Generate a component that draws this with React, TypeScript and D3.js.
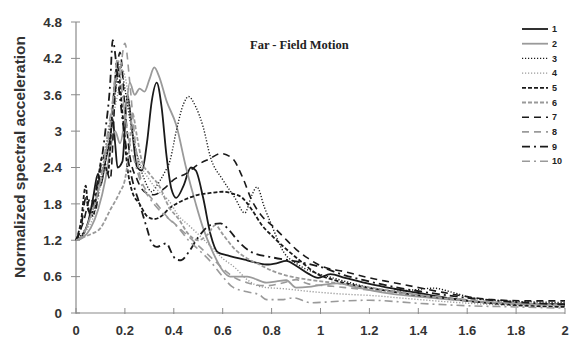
import React from "react";
import * as d3 from "d3";

type P = [number, number];

const xTicks = [0, 0.2, 0.4, 0.6, 0.8, 1, 1.2, 1.4, 1.6, 1.8, 2];
const yTicks = [0, 0.6, 1.2, 1.8, 2.4, 3, 3.6, 4.2, 4.8];
const seriesNames = ["1", "2", "3", "4", "5", "6", "7", "8", "9", "10"];

const s1: P[] = [[0,1.2],[0.03,1.3],[0.05,1.5],[0.07,1.9],[0.09,2.3],[0.1,2.1],[0.12,2.5],[0.14,2.9],[0.15,3.2],[0.16,2.8],[0.17,2.4],[0.19,2.5],[0.21,3.6],[0.23,3.0],[0.25,2.4],[0.27,2.35],[0.29,2.8],[0.31,3.5],[0.33,3.8],[0.35,3.4],[0.37,2.6],[0.39,2.05],[0.41,1.9],[0.44,2.1],[0.47,2.4],[0.49,2.35],[0.52,1.9],[0.55,1.3],[0.58,1.0],[0.62,0.95],[0.7,0.87],[0.78,0.8],[0.82,0.82],[0.86,0.86],[0.9,0.78],[0.95,0.65],[0.99,0.58],[1.04,0.64],[1.1,0.58],[1.2,0.48],[1.3,0.4],[1.4,0.33],[1.5,0.26],[1.6,0.2],[1.7,0.17],[1.8,0.16],[1.9,0.15],[2,0.15]];
const s2: P[] = [[0,1.2],[0.03,1.25],[0.06,1.4],[0.09,1.7],[0.12,2.2],[0.14,2.7],[0.16,3.0],[0.18,2.8],[0.2,3.2],[0.22,3.8],[0.24,3.6],[0.26,3.7],[0.28,3.65],[0.3,3.85],[0.32,4.05],[0.34,3.9],[0.37,3.5],[0.41,3.1],[0.45,2.4],[0.49,1.8],[0.52,1.4],[0.56,1.0],[0.6,0.7],[0.63,0.6],[0.7,0.6],[0.78,0.5],[0.82,0.52],[0.86,0.54],[0.9,0.42],[0.95,0.43],[1.0,0.46],[1.07,0.49],[1.15,0.42],[1.25,0.34],[1.4,0.27],[1.6,0.2],[1.8,0.16],[2,0.14]];
const s3: P[] = [[0,1.2],[0.04,1.4],[0.07,1.7],[0.1,2.2],[0.13,2.9],[0.16,3.6],[0.18,4.1],[0.2,3.7],[0.22,3.2],[0.25,2.6],[0.28,2.2],[0.31,2.0],[0.33,2.1],[0.36,2.3],[0.385,2.52],[0.41,3.0],[0.44,3.45],[0.46,3.57],[0.49,3.4],[0.52,3.07],[0.55,2.57],[0.6,2.2],[0.65,1.9],[0.69,1.65],[0.72,1.95],[0.74,2.08],[0.77,1.75],[0.8,1.45],[0.85,1.0],[0.9,0.82],[0.98,0.66],[1.05,0.58],[1.12,0.5],[1.2,0.42],[1.3,0.36],[1.38,0.38],[1.46,0.41],[1.54,0.34],[1.62,0.25],[1.75,0.2],[1.9,0.18],[2,0.17]];
const s4: P[] = [[0,1.2],[0.04,1.35],[0.08,1.7],[0.11,2.3],[0.14,3.0],[0.17,3.6],[0.19,4.0],[0.21,3.7],[0.23,3.0],[0.26,2.5],[0.3,2.2],[0.34,2.0],[0.38,1.85],[0.42,1.6],[0.46,1.45],[0.5,1.3],[0.55,1.1],[0.6,0.9],[0.65,0.75],[0.7,0.55],[0.76,0.43],[0.85,0.4],[0.97,0.35],[1.1,0.31],[1.2,0.29],[1.35,0.24],[1.5,0.19],[1.7,0.14],[1.85,0.12],[2,0.11]];
const s5: P[] = [[0,1.2],[0.02,1.5],[0.04,2.1],[0.05,1.7],[0.07,1.6],[0.09,2.2],[0.11,2.6],[0.13,2.3],[0.15,3.4],[0.17,4.1],[0.19,3.3],[0.21,2.4],[0.23,2.0],[0.26,1.8],[0.29,1.6],[0.32,1.55],[0.35,1.6],[0.38,1.72],[0.41,1.8],[0.45,1.88],[0.5,1.95],[0.55,1.98],[0.6,2.0],[0.64,1.97],[0.68,1.9],[0.72,1.7],[0.76,1.45],[0.8,1.28],[0.85,1.09],[0.92,0.85],[0.98,0.66],[1.05,0.55],[1.15,0.45],[1.25,0.38],[1.35,0.32],[1.45,0.27],[1.55,0.23],[1.65,0.18],[1.8,0.13],[2,0.1]];
const s6: P[] = [[0,1.2],[0.03,1.25],[0.06,1.3],[0.1,1.4],[0.14,1.7],[0.18,2.0],[0.2,2.2],[0.22,2.8],[0.23,3.3],[0.25,2.9],[0.27,2.5],[0.3,2.3],[0.34,2.1],[0.38,1.75],[0.42,1.55],[0.46,1.3],[0.5,1.2],[0.54,1.3],[0.57,1.45],[0.6,1.3],[0.65,1.05],[0.7,0.9],[0.75,0.8],[0.8,0.7],[0.88,0.6],[0.95,0.55],[1.05,0.5],[1.15,0.45],[1.3,0.36],[1.45,0.27],[1.6,0.2],[1.8,0.15],[2,0.13]];
const s7: P[] = [[0,1.2],[0.03,1.5],[0.06,1.9],[0.08,1.7],[0.1,2.3],[0.12,2.4],[0.14,2.2],[0.16,3.6],[0.18,4.3],[0.2,3.4],[0.22,2.6],[0.25,2.2],[0.28,2.0],[0.32,1.95],[0.36,2.05],[0.4,2.2],[0.45,2.3],[0.5,2.45],[0.55,2.55],[0.59,2.63],[0.64,2.55],[0.68,2.25],[0.72,1.85],[0.76,1.6],[0.8,1.45],[0.85,1.25],[0.9,1.05],[0.95,0.9],[1.0,0.78],[1.1,0.68],[1.2,0.58],[1.3,0.5],[1.4,0.42],[1.5,0.34],[1.6,0.27],[1.7,0.22],[1.85,0.2],[2,0.2]];
const s8: P[] = [[0,1.2],[0.03,1.3],[0.06,1.6],[0.09,2.0],[0.12,2.6],[0.14,3.1],[0.16,3.8],[0.18,4.0],[0.2,4.45],[0.22,3.8],[0.24,2.9],[0.26,2.3],[0.29,2.0],[0.33,1.8],[0.37,1.6],[0.41,1.45],[0.45,1.3],[0.49,1.15],[0.53,1.0],[0.57,0.85],[0.61,0.7],[0.65,0.58],[0.7,0.5],[0.78,0.45],[0.85,0.5],[0.9,0.55],[0.95,0.48],[1.05,0.44],[1.2,0.38],[1.4,0.3],[1.6,0.22],[1.8,0.16],[2,0.14]];
const s9: P[] = [[0,1.2],[0.02,1.4],[0.04,1.9],[0.06,1.6],[0.08,2.0],[0.1,2.4],[0.12,3.0],[0.14,3.8],[0.15,4.5],[0.17,3.9],[0.19,3.2],[0.21,2.6],[0.23,2.2],[0.26,1.8],[0.29,1.4],[0.31,1.15],[0.33,1.09],[0.35,1.12],[0.37,1.15],[0.39,1.0],[0.41,0.88],[0.43,0.87],[0.46,1.0],[0.5,1.25],[0.55,1.45],[0.59,1.48],[0.63,1.35],[0.66,1.2],[0.72,1.0],[0.8,0.92],[0.9,0.85],[1.0,0.76],[1.1,0.62],[1.2,0.52],[1.3,0.43],[1.45,0.33],[1.6,0.25],[1.8,0.18],[2,0.14]];
const s10: P[] = [[0,1.2],[0.03,1.3],[0.06,1.6],[0.09,2.0],[0.11,2.4],[0.13,3.0],[0.15,3.5],[0.17,4.2],[0.19,3.6],[0.21,3.0],[0.24,2.5],[0.27,2.1],[0.3,1.9],[0.34,1.7],[0.38,1.55],[0.42,1.4],[0.46,1.2],[0.5,1.05],[0.55,0.85],[0.6,0.6],[0.64,0.43],[0.7,0.35],[0.75,0.3],[0.78,0.22],[0.84,0.22],[0.89,0.25],[0.96,0.17],[1.02,0.18],[1.1,0.2],[1.2,0.21],[1.4,0.16],[1.6,0.12],[1.8,0.1],[2,0.08]];

const allSeries = [s1, s2, s3, s4, s5, s6, s7, s8, s9, s10];

const BLACK = "#1a1a1a";
const GRAY = "#9a9a9a";
const styles = [
  { color: BLACK, dash: "", w: 1.8 },
  { color: GRAY, dash: "", w: 1.8 },
  { color: BLACK, dash: "1.2,1.8", w: 1.4 },
  { color: GRAY, dash: "1.2,1.8", w: 1.4 },
  { color: BLACK, dash: "4,2", w: 1.8 },
  { color: GRAY, dash: "4,2", w: 1.8 },
  { color: BLACK, dash: "7,5", w: 1.6 },
  { color: GRAY, dash: "7,5", w: 1.6 },
  { color: BLACK, dash: "8,4,2,4", w: 1.8 },
  { color: GRAY, dash: "8,4,2,4", w: 1.6 },
];

export default function App() {
  const W = 571, H = 340;
  const x = d3.scaleLinear().domain([0, 2]).range([76, 565]);
  const y = d3.scaleLinear().domain([0, 4.8]).range([313, 22]);
  const line = d3.line<P>().x(d => x(d[0])).y(d => y(d[1])).curve(d3.curveMonotoneX);
  const axisColor = "#8a8a8a";
  const tickFont = "'Liberation Sans', Arial, sans-serif";

  return (
    <svg width={W} height={H} style={{ position: "absolute", left: 0, top: 0, background: "#fff" }}>
      <rect x={0} y={0} width={W} height={H} fill="#fff" />
      {/* axes */}
      <line x1={x(0)} x2={x(0)} y1={y(4.8)} y2={y(0)} stroke={axisColor} strokeWidth={1.2} />
      <line x1={x(0)} x2={x(2)} y1={y(0)} y2={y(0)} stroke={axisColor} strokeWidth={1.2} />
      {yTicks.map(t => (
        <g key={"y" + t}>
          <line x1={x(0) - 5} x2={x(0) + 4} y1={y(t)} y2={y(t)} stroke={axisColor} strokeWidth={1} />
          <text x={62} y={y(t)} dy="0.36em" textAnchor="end" fontFamily={tickFont} fontWeight="bold" fontSize={13.5} fill="#333">{t}</text>
        </g>
      ))}
      {xTicks.map(t => (
        <g key={"x" + t}>
          <line x1={x(t)} x2={x(t)} y1={y(0) - 5} y2={y(0) + 1} stroke={axisColor} strokeWidth={1} />
          <text x={x(t)} y={335} textAnchor="middle" fontFamily={tickFont} fontWeight="bold" fontSize={13} fill="#333">{t}</text>
        </g>
      ))}
      <text transform={`translate(25,${(22 + 292) / 2}) rotate(-90)`} textAnchor="middle" fontFamily={tickFont} fontWeight="bold" fontSize={15.5} fill="#333">Normalized spectral acceleration</text>
      {/* series */}
      {allSeries.map((s, i) => (
        <path key={"s" + i} d={line(s) || ""} fill="none" stroke={styles[i].color} strokeWidth={styles[i].w} strokeDasharray={styles[i].dash} />
      ))}
      {/* title */}
      <text x={250} y={49} fontFamily="'Liberation Serif', 'Times New Roman', serif" fontWeight="bold" fontSize={12.5} fill="#222">Far - Field Motion</text>
      {/* legend */}
      {seriesNames.map((n, i) => {
        const ly = 29 + i * 14.7;
        return (
          <g key={"l" + n}>
            <line x1={522} x2={548} y1={ly} y2={ly} stroke={styles[i].color} strokeWidth={styles[i].w} strokeDasharray={styles[i].dash} />
            <text x={552} y={ly} dy="0.35em" fontFamily={tickFont} fontWeight="bold" fontSize={9} fill="#222">{n}</text>
          </g>
        );
      })}
    </svg>
  );
}
